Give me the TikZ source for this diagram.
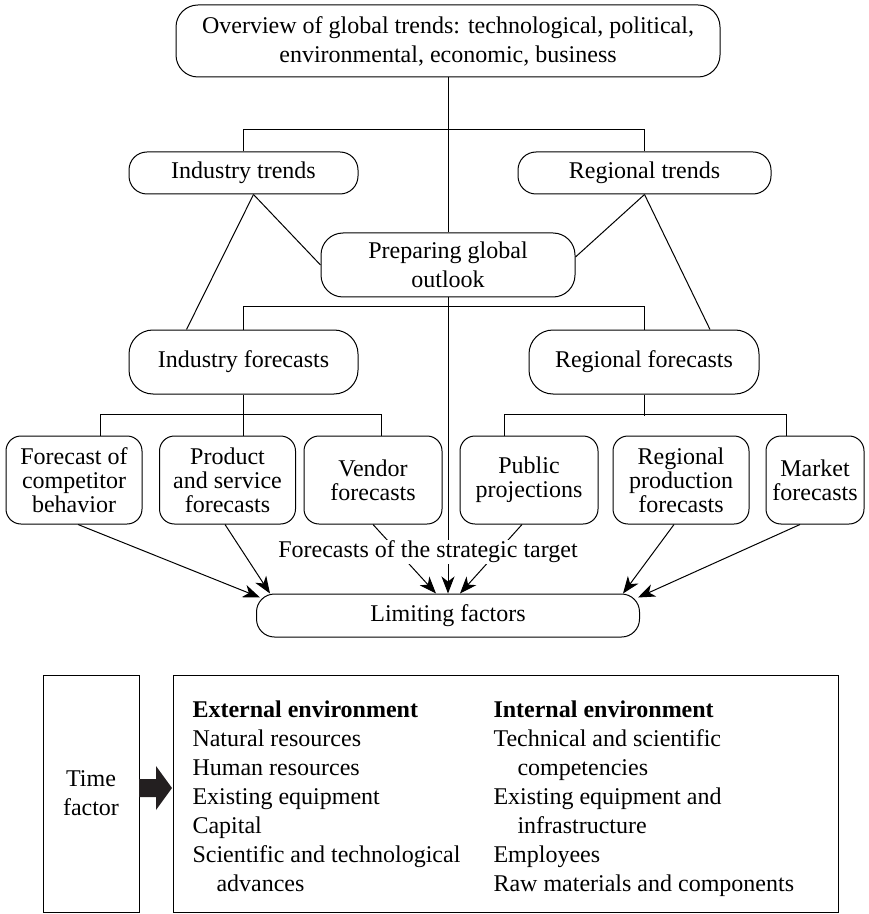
\documentclass[tikz,border=0pt]{standalone}
\usepackage{fontspec}
\setmainfont{Liberation Serif}
\usetikzlibrary{arrows.meta}
\newcommand{\mainfs}{\fontsize{12}{14.5}\selectfont}
\newcommand{\boxfs}{\fontsize{12}{12}\selectfont}
\definecolor{blockgray}{HTML}{231F20}

\begin{document}
\begin{tikzpicture}[x=0.5pt,y=-0.5pt,line width=0.5pt,
    box/.style={draw,rounded corners=#1,align=center,inner sep=0pt,font=\mainfs},
    box/.default=9pt,
    fbox/.style={box=7.5pt,font=\boxfs,minimum width=68pt,minimum height=44pt},
    arr/.style={-{Stealth[length=8.5pt,width=6.5pt,inset=2.5pt]}}]
  \useasboundingbox (0,0) rectangle (868,914);
  % global level
  \node[box=11pt,minimum width=272pt,minimum height=36pt] (glob) at (448,41)
    {Overview of global trends: technological, political,\\environmental, economic, business};
  \node[box,minimum width=114.5pt,minimum height=21pt] (indt) at (243.5,173) {Industry trends};
  \node[box,minimum width=126.5pt,minimum height=21pt] (regt) at (644.5,173) {Regional trends};
  \node[box=11pt,minimum width=127pt,minimum height=32pt] (prep) at (448,265) {Preparing global\\outlook};
  \node[box=12pt,minimum width=114.5pt,minimum height=32pt] (indf) at (243.5,362) {Industry forecasts};
  \node[box=12pt,minimum width=115pt,minimum height=32pt] (regf) at (644,362) {Regional forecasts};
  % forecasts
  \node[fbox] (comp) at (74,480) {Forecast of\\competitor\\behavior};
  \node[fbox] (prod) at (227.5,480) {Product\\and service\\forecasts};
  \node[fbox,minimum width=69pt] (vend) at (373,480) {Vendor\\forecasts};
  \node[fbox,minimum width=69pt] (publ) at (529,480) {Public\\projections};
  \node[fbox] (rprod) at (681,480) {Regional\\production\\forecasts};
  \node[fbox,minimum width=49pt] (mark) at (815,480) {Market\\forecasts};
  \node[box,minimum width=191.5pt,minimum height=21.5pt] (lim) at (448,615.5) {Limiting factors};
  %
  \draw (glob) -- (prep);
  \draw (indt.north) -- ++(0,-22) -| (regt.north);
  \draw ([xshift=5pt]indt.south) -- (prep.west);
  \draw ([xshift=5pt]indt.south) -- ([xshift=-28.5pt]indf.north);
  \draw (regt.south) -- ([yshift=4pt]prep.east);
  \draw (regt.south) -- ([xshift=33pt]regf.north);
  \draw (indf.north) -- ++(0,-23) -| (regf.north);
  \draw (indf.south) -- (indf.south |- prod.north);
  \draw ([xshift=13pt]comp.north) -- ++(0,-21) -| ([xshift=4pt]vend.north);
  \draw (regf.south) -- ++(0,21);
  \draw ([xshift=-12.5pt]publ.north) -- ++(0,-21) -| ([xshift=-14.5pt]mark.north);
  % arrows into limiting factors
  \draw[arr] (prep) -- (lim);
  \draw[arr] ([xshift=2pt]comp.south) -- ([xshift=2pt,yshift=-2pt]lim.north west);
  \draw[arr] ([xshift=-1.25pt]prod.south) -- ([xshift=7pt]lim.north west);
  \draw[arr] (vend.south) -- ([xshift=-6pt]lim.north);
  \draw[arr] ([xshift=-3.5pt]publ.south) -- ([xshift=6pt]lim.north);
  \draw[arr] ([xshift=-3.5pt]rprod.south) -- ([xshift=-8.5pt]lim.north east);
  \draw[arr] ([xshift=-7.5pt]mark.south) -- ([xshift=-1pt,yshift=-2pt]lim.north east);
  \node[fill=white,inner xsep=1pt,inner ysep=0.5pt,font=\mainfs] (strat) at (428,552)
    {Forecasts of the strategic target};
  % environment
  \node[draw,minimum width=48pt,minimum height=118.5pt,inner sep=0pt,align=center,font=\mainfs]
    (time) at (91,793.5) {Time\\factor};
  \node[draw,minimum width=332.5pt,minimum height=118.5pt,inner sep=0pt] (env) at (505.5,793.5) {};
  \fill[blockgray] (139,779) -- (156,779) -- (156,766) -- (172,788) -- (156,810)
    -- (156,797) -- (139,797) -- cycle;
  \node[anchor=north west,align=left,inner sep=0pt,font=\mainfs] (ext) at (192,700)
    {\textbf{External environment}\\Natural resources\\Human resources\\Existing equipment\\
     Capital\\Scientific and technological\\\quad advances};
  \node[anchor=north west,align=left,inner sep=0pt,font=\mainfs] (int) at (493,700)
    {\textbf{Internal environment}\\Technical and scientific\\\quad competencies\\
     Existing equipment and\\\quad infrastructure\\Employees\\Raw materials and components};
\end{tikzpicture}
\end{document}
